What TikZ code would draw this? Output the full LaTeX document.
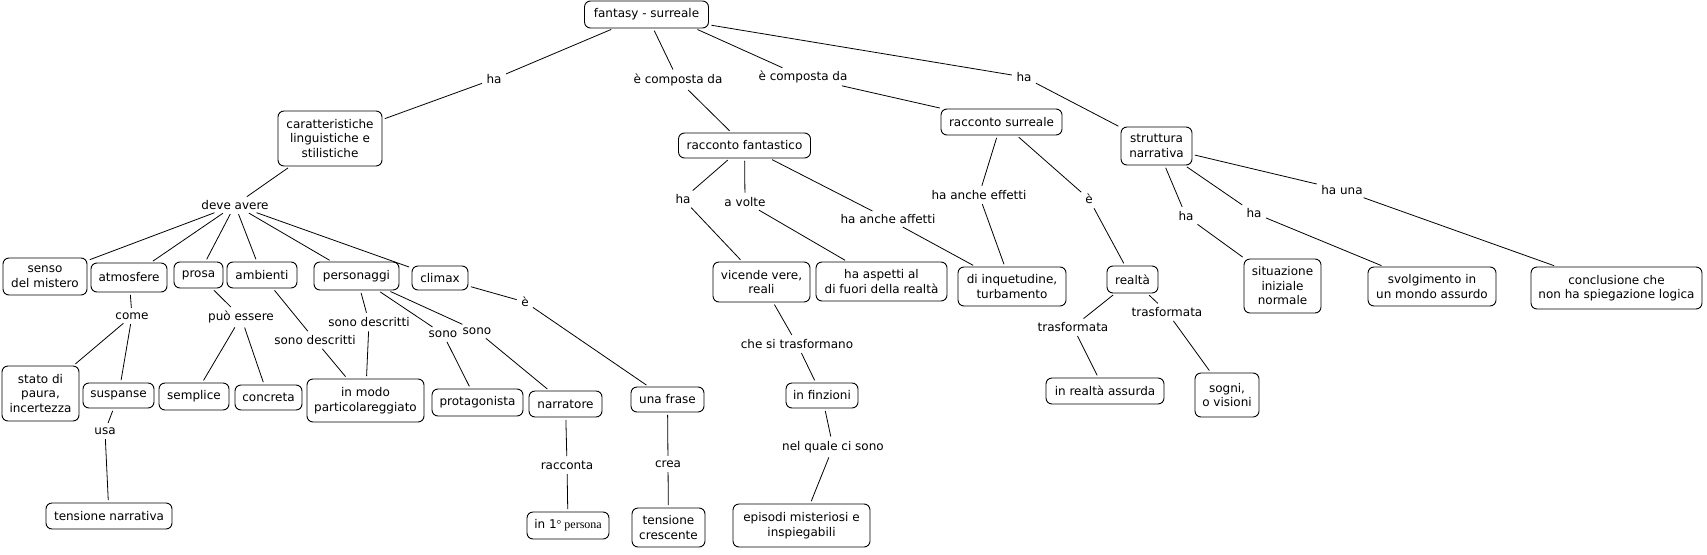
\documentclass[tikz,border=0pt]{standalone}
\usepackage{fontspec}
\setmainfont{DejaVu Sans}
\newfontfamily\serifx{Liberation Serif}
\begin{document}
\begin{tikzpicture}[x=1pt,y={(0pt,-1pt)},
  every node/.style={font=\fontsize{12}{14.5}\selectfont},
  concept/.style={draw, rounded corners=6pt, align=center, inner sep=1pt, line width=0.9pt},
  lbl/.style={align=center, inner sep=2pt},
  link/.style={line width=0.8pt, shorten <=2.5pt, shorten >=2.5pt}]
\useasboundingbox (0,0) rectangle (1707,554);
\fill[white] (0,0) rectangle (1707,554);
% concepts
\node[concept, minimum width=124pt, minimum height=27pt] (fs) at (646.5,14.5) {fantasy - surreale};
\node[concept, minimum width=104pt, minimum height=55pt] (car) at (330,138.5) {caratteristiche\\linguistiche e\\stilistiche};
\node[concept, minimum width=132pt, minimum height=25pt] (rf) at (744.5,145.5) {racconto fantastico};
\node[concept, minimum width=121pt, minimum height=26pt] (rs) at (1001.5,122) {racconto surreale};
\node[concept, minimum width=71pt, minimum height=38pt] (sn) at (1156.5,146) {struttura\\narrativa};
\node[concept, minimum width=84pt, minimum height=37pt] (sm) at (45,276.5) {senso\\del mistero};
\node[concept, minimum width=76pt, minimum height=29pt] (atm) at (129,277.5) {atmosfere};
\node[concept, minimum width=49pt, minimum height=26pt] (pro) at (198.5,275) {prosa};
\node[concept, minimum width=70pt, minimum height=26pt] (amb) at (262,275) {ambienti};
\node[concept, minimum width=85pt, minimum height=28pt] (pers) at (356.5,276) {personaggi};
\node[concept, minimum width=56pt, minimum height=24pt] (cli) at (440,278) {climax};
\node[concept, minimum width=77pt, minimum height=55pt] (spi) at (40.5,393.5) {stato di\\paura,\\incertezza};
\node[concept, minimum width=71pt, minimum height=25pt] (sus) at (118.5,395.5) {suspanse};
\node[concept, minimum width=126pt, minimum height=26pt] (tn) at (109,516) {tensione narrativa};
\node[concept, minimum width=70pt, minimum height=27pt] (sem) at (194,396.5) {semplice};
\node[concept, minimum width=67pt, minimum height=25pt] (con) at (268.5,397.5) {concreta};
\node[concept, minimum width=117pt, minimum height=43pt] (imp) at (365.5,400.5) {in modo\\particolareggiato};
\node[concept, minimum width=91pt, minimum height=27pt] (prot) at (477.5,402.5) {protagonista};
\node[concept, minimum width=73pt, minimum height=26pt] (nar) at (565.5,404) {narratore};
\node[concept, minimum width=82pt, minimum height=27pt] (ip) at (568,525.5) {in 1{\serifx°~persona}};
\node[concept, minimum width=73pt, minimum height=25pt] (uf) at (667.5,399.5) {una frase};
\node[concept, minimum width=73pt, minimum height=39pt] (tc) at (668.5,527.5) {tensione\\crescente};
\node[concept, minimum width=97pt, minimum height=40pt] (vvr) at (761.5,282) {vicende vere,\\reali};
\node[concept, minimum width=131pt, minimum height=39pt] (haf) at (881.5,281.5) {ha aspetti al\\di fuori della realtà};
\node[concept, minimum width=108pt, minimum height=39pt] (dit) at (1012,286.5) {di inquetudine,\\turbamento};
\node[concept, minimum width=72pt, minimum height=25pt] (fin) at (822,395.5) {in finzioni};
\node[concept, minimum width=137pt, minimum height=43pt] (epi) at (801.5,525.5) {episodi misteriosi e\\inspiegabili};
\node[concept, minimum width=51pt, minimum height=27pt] (real) at (1132.5,279.5) {realtà};
\node[concept, minimum width=118pt, minimum height=26pt] (ira) at (1105,391) {in realtà assurda};
\node[concept, minimum width=64pt, minimum height=44pt] (sov) at (1227,395) {sogni,\\o visioni};
\node[concept, minimum width=77pt, minimum height=54pt] (sin) at (1282.5,286) {situazione\\iniziale\\normale};
\node[concept, minimum width=128pt, minimum height=39pt] (svo) at (1432,286.5) {svolgimento in\\un mondo assurdo};
\node[concept, minimum width=171pt, minimum height=42pt] (cnc) at (1616.5,288) {conclusione che\\non ha spiegazione logica};
% linking phrases
\node[lbl] (l1) at (494,79) {ha};
\node[lbl] (l2) at (678,80) {è composta da};
\node[lbl] (l3) at (803,77) {è composta da};
\node[lbl] (l4) at (1024,77) {ha};
\node[lbl] (l5) at (235,205) {deve avere};
\node[lbl] (l6) at (132,316) {come};
\node[lbl] (l7) at (105,431) {usa};
\node[lbl] (l8) at (241,317) {può essere};
\node[lbl] (l9) at (315,340) {sono descritti};
\node[lbl] (l10) at (369,322) {sono descritti};
\node[lbl] (l11) at (443,334) {sono};
\node[lbl] (l12) at (477,331) {sono};
\node[lbl] (l13) at (567,465) {racconta};
\node[lbl] (l14) at (525,302) {è};
\node[lbl] (l15) at (668,464) {crea};
\node[lbl] (l16) at (683,199) {ha};
\node[lbl] (l17) at (745,202) {a volte};
\node[lbl] (l18) at (888,219) {ha anche affetti};
\node[lbl] (l19) at (979,195) {ha anche effetti};
\node[lbl] (l20) at (1089,199) {è};
\node[lbl] (l21) at (797,344) {che si trasformano};
\node[lbl] (l22) at (833,447) {nel quale ci sono};
\node[lbl] (l23) at (1073,327) {trasformata};
\node[lbl] (l24) at (1167,312) {trasformata};
\node[lbl] (l25) at (1186,216) {ha};
\node[lbl] (l26) at (1254,213) {ha};
\node[lbl] (l27) at (1342,190) {ha una};
% connectors
\draw[link] (fs) -- (l1); \draw[link] (l1) -- (car);
\draw[link] (fs) -- (l2); \draw[link] (l2) -- (rf);
\draw[link] (fs.-16) -- (l3); \draw[link] (l3) -- (rs);
\draw[link] (fs) -- (l4); \draw[link] (l4) -- (sn);
\draw[link] (car) -- (l5);
\foreach \t in {sm,atm,pro,amb,pers,cli} {\draw[link] (l5) -- (\t);}
\draw[link] (atm) -- (l6); \draw[link] (l6) -- (spi); \draw[link] (l6) -- (sus);
\draw[link] (sus) -- (l7); \draw[link] (l7) -- (tn);
\draw[link] (pro) -- (l8); \draw[link] (l8) -- (sem); \draw[link] (l8) -- (con);
\draw[link] (amb) -- (l9); \draw[link] (l9) -- (imp);
\draw[link] (pers) -- (l10); \draw[link] (l10) -- (imp);
\draw[link] (pers) -- (l11); \draw[link] (l11) -- (prot);
\draw[link] (pers) -- (l12); \draw[link] (l12) -- (nar);
\draw[link] (nar) -- (l13); \draw[link] (l13) -- (ip);
\draw[link] (cli) -- (l14); \draw[link] (l14) -- (uf);
\draw[link] (uf) -- (l15); \draw[link] (l15) -- (tc);
\draw[link] (rf) -- (l16); \draw[link] (l16) -- (vvr);
\draw[link] (rf) -- (l17); \draw[link] (l17) -- (haf);
\draw[link] (rf) -- (l18); \draw[link] (l18) -- (dit);
\draw[link] (rs) -- (l19); \draw[link] (l19) -- (dit);
\draw[link] (rs) -- (l20); \draw[link] (l20) -- (real);
\draw[link] (vvr) -- (l21); \draw[link] (l21) -- (fin);
\draw[link] (fin) -- (l22); \draw[link] (l22) -- (epi);
\draw[link] (real) -- (l23); \draw[link] (l23) -- (ira);
\draw[link] (real) -- (l24); \draw[link] (l24) -- (sov);
\draw[link] (sn) -- (l25); \draw[link] (l25) -- (sin);
\draw[link] (sn) -- (l26); \draw[link] (l26) -- (svo);
\draw[link] (sn) -- (l27); \draw[link] (l27) -- (cnc);
\end{tikzpicture}
\end{document}
